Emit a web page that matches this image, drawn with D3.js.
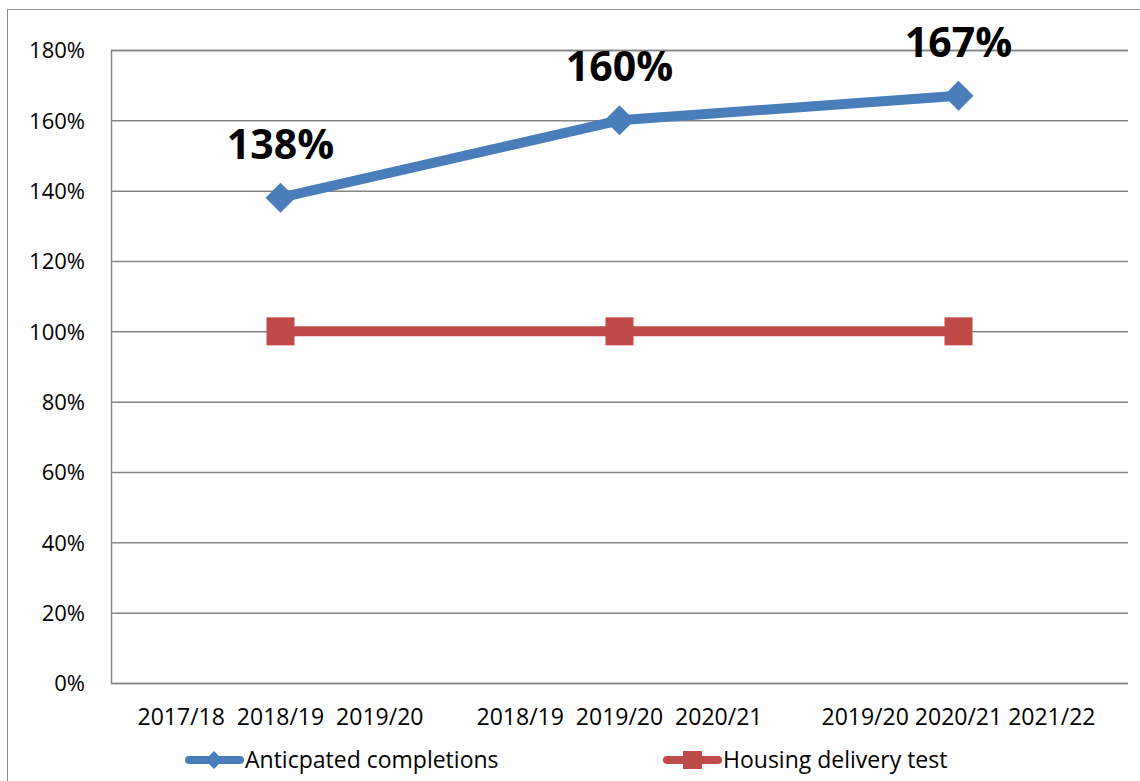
<!DOCTYPE html>
<html><head><meta charset="utf-8">
<script src="https://cdn.jsdelivr.net/npm/d3@7"></script>
<style>body{margin:0;background:#fff}svg{display:block}text{font-family:"Open Sans","Noto Sans",sans-serif}</style>
</head><body>
<svg id="c" width="1140" height="781"></svg>
<script>
const categories = ["2017/18  2018/19  2019/20", "2018/19  2019/20  2020/21", "2019/20 2020/21 2021/22"];
const anticipated = [1.38, 1.60, 1.67];
const hdt = [1.00, 1.00, 1.00];
const anticipatedLabels = ["138%", "160%", "167%"];
const yTicks = [0, 0.2, 0.4, 0.6, 0.8, 1.0, 1.2, 1.4, 1.6, 1.8];
const seriesNames = ["Anticpated completions", "Housing delivery test"];

const svg = d3.select("#c");
const blue = "#4a7ebb", red = "#be4b48", grid = "#868686";
const L = 111, R = 1128, T = 50, B = 683;

svg.append("rect").attr("x", 7.5).attr("y", 9.5).attr("width", 1140).attr("height", 800)
  .attr("fill", "none").attr("stroke", "#8a8a8a").attr("stroke-width", 1);

const x = d3.scaleBand().domain(categories).range([L, R]).padding(0);
const y = d3.scaleLinear().domain([0, 1.8]).range([B, T]);

const yAxis = d3.axisLeft(y).tickValues(yTicks).tickFormat(d3.format(".0%")).tickSize(-(R - L)).tickPadding(26);
const gy = svg.append("g").attr("transform", `translate(${L},0)`).call(yAxis);
gy.select(".domain").attr("stroke", grid).attr("stroke-width", 1.5);
gy.selectAll(".tick line").attr("stroke", grid).attr("stroke-width", 1.5);
gy.selectAll(".tick text").attr("font-size", 22).attr("fill", "#000").attr("dy", "0.35em");

const xAxis = d3.axisBottom(x).tickSize(0).tickPadding(24);
const gx = svg.append("g").attr("transform", `translate(0,${B})`).call(xAxis);
gx.select(".domain").remove();
gx.selectAll(".tick text").attr("font-size", 23).attr("fill", "#000").style("white-space", "pre").attr("dy", "0.35em").attr("y", 34);

const cx = d => x(d) + x.bandwidth() / 2;
const line = d3.line().x((d, i) => cx(categories[i])).y(d => y(d));

svg.append("path").datum(hdt).attr("d", line).attr("fill", "none").attr("stroke", red).attr("stroke-width", 10);
svg.selectAll(".sq").data(hdt).join("rect")
  .attr("x", (d, i) => cx(categories[i]) - 14).attr("y", d => y(d) - 14)
  .attr("width", 28).attr("height", 28).attr("fill", red);

svg.append("path").datum(anticipated).attr("d", line).attr("fill", "none").attr("stroke", blue).attr("stroke-width", 10).attr("stroke-linejoin", "round");
svg.selectAll(".dm").data(anticipated).join("path")
  .attr("transform", (d, i) => `translate(${cx(categories[i])},${y(d)}) rotate(45)`)
  .attr("d", d3.symbol().type(d3.symbolSquare).size(450)).attr("fill", blue);

svg.selectAll(".lbl").data(anticipated).join("text")
  .attr("x", (d, i) => cx(categories[i])).attr("y", d => y(d) - 39)
  .attr("text-anchor", "middle").attr("font-size", 41).attr("font-weight", "bold").attr("fill", "#000")
  .text((d, i) => anticipatedLabels[i]);

// legend
const lg = [{name: seriesNames[0], color: blue, x0: 185, shape: "d"}, {name: seriesNames[1], color: red, x0: 663, shape: "s"}];
const ly = 760;
lg.forEach(o => {
  const g = svg.append("g");
  g.append("line").attr("x1", o.x0 + 4).attr("x2", o.x0 + 55).attr("y1", ly).attr("y2", ly)
    .attr("stroke", o.color).attr("stroke-width", 8).attr("stroke-linecap", "round");
  if (o.shape === "d") {
    g.append("path").attr("transform", `translate(${o.x0 + 29},${ly}) rotate(45)`)
      .attr("d", d3.symbol().type(d3.symbolSquare).size(160)).attr("fill", o.color);
  } else {
    g.append("rect").attr("x", o.x0 + 20).attr("y", ly - 9).attr("width", 19).attr("height", 18).attr("fill", o.color);
  }
  g.append("text").attr("x", o.x0 + 60).attr("y", ly).attr("dy", "0.35em").attr("font-size", 23).attr("fill", "#000").text(o.name);
});
</script>
</body></html>
